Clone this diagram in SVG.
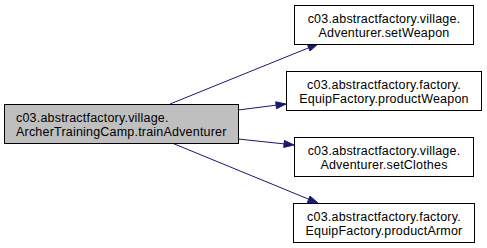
<svg xmlns="http://www.w3.org/2000/svg" width="487" height="248" viewBox="0 0 487 248">
  <style>
    .node rect { stroke: #000000; stroke-width: 1; }
    .root rect { fill: #bfbfbf; }
    .leaf rect { fill: #ffffff; }
    text { font-family: "Liberation Sans", Arial, Helvetica, sans-serif; font-size: 12.5px; letter-spacing: 0.2px; fill: #000000; }
    .leaf text { text-anchor: middle; }
    .edge { fill: none; stroke: #191970; stroke-width: 1; }
    .head { fill: #191970; stroke: #191970; stroke-width: 1; }
  </style>
  <rect width="487" height="248" fill="#ffffff"/>

  <g id="connectors">
    <path class="edge" d="M170,104 L308.7,47.8"/>
    <polygon class="head" points="307.4,44.5 318,44 310,51"/>
    <path class="edge" d="M238,110 L276.1,105.2"/>
    <polygon class="head" points="275.7,101.8 286,104 276.5,108.7"/>
    <path class="edge" d="M238,139 L284.1,143.9"/>
    <polygon class="head" points="284.4,140.4 294,145 283.7,147.4"/>
    <path class="edge" d="M172,143 L308.7,199.2"/>
    <polygon class="head" points="310,196 318,203 307.4,202.4"/>
  </g>

  <g id="node-trainAdventurer" class="node root">
    <rect x="4.5" y="104.5" width="234" height="39"/>
    <text x="16" y="121.5">c03.abstractfactory.village.</text>
    <text x="16" y="135.5">ArcherTrainingCamp.trainAdventurer</text>
  </g>

  <g id="node-setWeapon" class="node leaf">
    <rect x="294.5" y="5.5" width="179" height="39"/>
    <text x="384" y="22.5">c03.abstractfactory.village.</text>
    <text x="384" y="36.5">Adventurer.setWeapon</text>
  </g>

  <g id="node-productWeapon" class="node leaf">
    <rect x="286.5" y="71.5" width="195" height="39"/>
    <text x="384" y="88.5">c03.abstractfactory.factory.</text>
    <text x="384" y="102.5">EquipFactory.productWeapon</text>
  </g>

  <g id="node-setClothes" class="node leaf">
    <rect x="294.5" y="137.5" width="179" height="39"/>
    <text x="384" y="154.5">c03.abstractfactory.village.</text>
    <text x="384" y="168.5">Adventurer.setClothes</text>
  </g>

  <g id="node-productArmor" class="node leaf">
    <rect x="293.5" y="203.5" width="181" height="39"/>
    <text x="384" y="220.5">c03.abstractfactory.factory.</text>
    <text x="384" y="234.5">EquipFactory.productArmor</text>
  </g>
</svg>
